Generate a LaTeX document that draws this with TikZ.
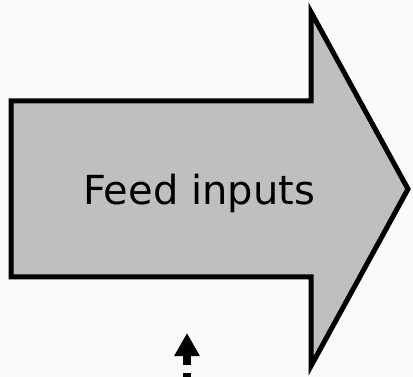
\documentclass[tikz,border=0pt]{standalone}
\usepackage{fontspec}
\setmainfont{DejaVu Sans}
\usetikzlibrary{arrows.meta}

\begin{document}
\begin{tikzpicture}[x=1pt,y=-1pt,>={Triangle[width=24pt,length=23pt]}]
\useasboundingbox[fill=white!98!black] (0,0) rectangle (413,377);

\tikzstyle{block}=[
	draw=black,
	line width=5pt,
	line join=miter,
	fill=black!25
]
\tikzstyle{bigtext}=[font=\fontsize{40}{48}\selectfont,anchor=base,inner sep=0pt]
\tikzstyle{feedline}=[->,line width=8pt,dash pattern=on 9pt off 8pt]

%% ARROW
\draw[block] (11,101) -- (311,101) -- (311,12) -- (408,189)
	-- (311,366) -- (311,277) -- (11,277) -- cycle;
\node (feed) [bigtext] at (199,205) {Feed inputs};

%% INPUT
\coordinate (src) at (187,382);
\coordinate (dst) at (187,333);
\draw[feedline] (src) -- (dst);

\end{tikzpicture}
\end{document}
